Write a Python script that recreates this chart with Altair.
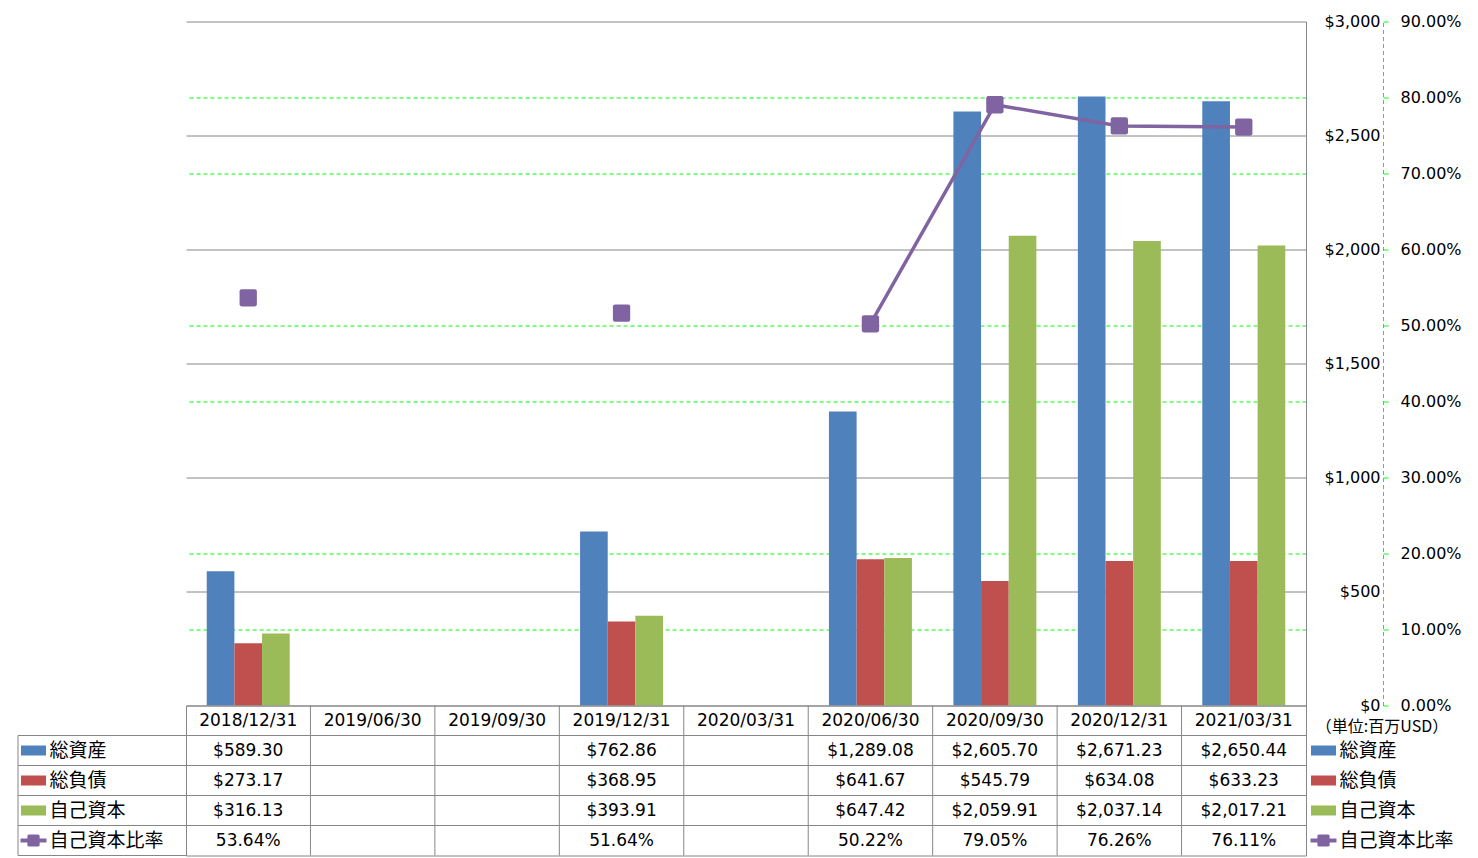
import altair as alt
import pandas as pd

# ---------------- data ----------------
cats = ["2018/12/31", "2019/06/30", "2019/09/30", "2019/12/31", "2020/03/31",
        "2020/06/30", "2020/09/30", "2020/12/31", "2021/03/31"]
assets = [589.30, None, None, 762.86, None, 1289.08, 2605.70, 2671.23, 2650.44]
liabilities = [273.17, None, None, 368.95, None, 641.67, 545.79, 634.08, 633.23]
equity = [316.13, None, None, 393.91, None, 647.42, 2059.91, 2037.14, 2017.21]
ratio = [53.64, None, None, 51.64, None, 50.22, 79.05, 76.26, 76.11]

series = ["総資産", "総負債", "自己資本"]
ratio_name = "自己資本比率"
colors = ["#4F81BD", "#C0504D", "#9BBB59"]
line_color = "#8064A2"
usd_ticks = [0, 500, 1000, 1500, 2000, 2500, 3000]
pct_ticks = [0, 0.1, 0.2, 0.3, 0.4, 0.5, 0.6, 0.7, 0.8, 0.9]
unit_note = "（単位:百万USD）"

# ---------------- layout constants ----------------
W = 1120
H1 = 684
H2 = 150
FONT = "DejaVu Sans, Noto Sans CJK JP"
CJK = "Noto Sans CJK JP"
GRID = "#868686"
LEFT = -168

rounded_sq = ("M-0.75,-1 L0.75,-1 Q1,-1 1,-0.75 L1,0.75 Q1,1 0.75,1 "
              "L-0.75,1 Q-1,1 -1,0.75 L-1,-0.75 Q-1,-1 -0.75,-1 Z")

# ---------------- tables ----------------
bar_rows = []
for i, c in enumerate(cats):
    for s, vals in zip(series, [assets, liabilities, equity]):
        if vals[i] is not None:
            bar_rows.append({"date": c, "series": s, "value": vals[i]})
bars_df = pd.DataFrame(bar_rows)

ratio_rows = []
seg = 0
prev = False
for i, c in enumerate(cats):
    r = ratio[i]
    if r is None:
        prev = False
        continue
    if not prev:
        seg += 1
    prev = True
    ratio_rows.append({"date": c, "ratio": r / 100, "seg": seg})
ratio_df = pd.DataFrame(ratio_rows)

rows = ["hdr"] + series + [ratio_name]
cell_rows = [{"date": c, "row": "hdr", "text": c} for c in cats]
for s, vals in zip(series, [assets, liabilities, equity]):
    for c, v in zip(cats, vals):
        if v is not None:
            cell_rows.append({"date": c, "row": s, "text": f"${v:,.2f}"})
for c, v in zip(cats, ratio):
    if v is not None:
        cell_rows.append({"date": c, "row": ratio_name, "text": f"{v:.2f}%"})
cells_df = pd.DataFrame(cell_rows)

keys_df = pd.DataFrame({"row": series, "series": series})
ratio_key_df = pd.DataFrame({"row": [ratio_name]})
lines_df = pd.DataFrame({"row": rows[1:]})
vlines_df = pd.DataFrame({"date": cats[1:]})
note_df = pd.DataFrame({"row": ["hdr"], "text": [unit_note]})

# ---------------- scales ----------------
xscale = alt.Scale(domain=cats, paddingInner=0, paddingOuter=0)
color_scale = alt.Scale(domain=series, range=colors)

# ---------------- main plot ----------------
bars = alt.Chart(bars_df).mark_bar().encode(
    x=alt.X("date:N", scale=xscale, axis=None),
    xOffset=alt.XOffset("series:N", scale=alt.Scale(domain=series, paddingInner=0, paddingOuter=0.75)),
    y=alt.Y("value:Q", scale=alt.Scale(domain=[0, 3000]),
            axis=alt.Axis(orient="right", offset=0, values=usd_ticks, format="$,.0f",
                          grid=True, gridColor=GRID, gridWidth=1,
                          domain=True, domainColor=GRID, ticks=False,
                          labelAlign="right", labelPadding=74, labelFont=FONT,
                          labelFontSize=16, labelColor="#000", title=None)),
    color=alt.Color("series:N", scale=color_scale, legend=None),
)

pct_y = alt.Y("ratio:Q", scale=alt.Scale(domain=[0, 0.9]),
              axis=alt.Axis(orient="right", offset=77, values=pct_ticks, format=".2%",
                            grid=True,
                            gridColor={"condition": {"test": "round(datum.value*10) % 3 == 0",
                                                     "value": "transparent"},
                                       "value": "#00FF00"},
                            gridDash=[4, 3], gridWidth=1,
                            domain=True, domainColor="#00FF00", domainDash=[4, 3],
                            ticks=True, tickColor="#00FF00", tickSize=5,
                            labelPadding=12, labelFont=FONT, labelFontSize=16,
                            labelColor="#000", title=None))

line = alt.Chart(ratio_df).mark_line(color=line_color, strokeWidth=3.5).encode(
    x=alt.X("date:N", scale=xscale, axis=None),
    y=pct_y,
    detail="seg:N",
)
points = alt.Chart(ratio_df).mark_point(shape=rounded_sq, size=300, filled=True,
                                        color=line_color, opacity=1).encode(
    x=alt.X("date:N", scale=xscale, axis=None),
    y=alt.Y("ratio:Q"),
)

top = alt.layer(bars, alt.layer(line, points)).resolve_scale(y="independent").properties(
    width=W, height=H1, view=alt.ViewBackground(stroke="transparent"))

# ---------------- data table ----------------
row_scale = alt.Scale(domain=rows, paddingInner=0, paddingOuter=0)
blank_hdr = "datum.value == 'hdr' ? '' : datum.value"

cell_text = alt.Chart(cells_df).mark_text(font=FONT, fontSize=17, color="#000").encode(
    x=alt.X("date:N", scale=xscale, axis=None),
    y=alt.Y("row:N", scale=row_scale,
            axis=alt.Axis(orient="left", title=None, ticks=False, domain=False, grid=False,
                          labelAlign="left", labelPadding=137, labelFont=CJK,
                          labelFontSize=19, labelColor="#000", labelExpr=blank_hdr)),
    text="text:N",
)

v_lines = alt.Chart(vlines_df).mark_rule(color=GRID, strokeWidth=1).encode(
    x=alt.X("date:N", scale=xscale, bandPosition=0, axis=None),
    y=alt.value(0), y2=alt.value(H2),
)
h_lines = alt.Chart(lines_df).mark_rule(color=GRID, strokeWidth=1).encode(
    y=alt.Y("row:N", scale=row_scale, bandPosition=0, axis=None),
    x=alt.value(LEFT), x2=alt.value(W),
)
v_left = alt.Chart(pd.DataFrame({"row": [series[0]]})).mark_rule(color=GRID, strokeWidth=1).encode(
    y=alt.Y("row:N", scale=row_scale, bandPosition=0, axis=None),
    y2=alt.value(H2), x=alt.value(LEFT),
)
bottom_left = alt.Chart(pd.DataFrame({"row": [series[0]]})).mark_rule(color=GRID, strokeWidth=1).encode(
    y=alt.value(H2), x=alt.value(LEFT), x2=alt.value(0),
)

left_keys = alt.Chart(keys_df).mark_tick(orient="horizontal", size=25, thickness=10, opacity=1).encode(
    y=alt.Y("row:N", scale=row_scale, axis=None),
    x=alt.value(LEFT + 15.5),
    color=alt.Color("series:N", scale=color_scale, legend=None),
)
left_rkey_line = alt.Chart(ratio_key_df).mark_tick(orient="horizontal", size=26, thickness=4,
                                                   color=line_color, opacity=1).encode(
    y=alt.Y("row:N", scale=row_scale, axis=None), x=alt.value(LEFT + 15.5))
left_rkey_pt = alt.Chart(ratio_key_df).mark_point(shape=rounded_sq, size=150, filled=True,
                                                  color=line_color, opacity=1).encode(
    y=alt.Y("row:N", scale=row_scale, axis=None), x=alt.value(LEFT + 15.5))

right_keys = alt.Chart(keys_df).mark_tick(orient="horizontal", size=25, thickness=10, opacity=1).encode(
    y=alt.Y("row:N", scale=row_scale,
            axis=alt.Axis(orient="right", title=None, ticks=False, domain=False, grid=False,
                          labelAlign="left", labelPadding=33, labelFont=CJK,
                          labelFontSize=19, labelColor="#000", labelExpr=blank_hdr)),
    x=alt.value(W + 17.5),
    color=alt.Color("series:N", scale=color_scale, legend=None),
)
right_rkey_line = alt.Chart(ratio_key_df).mark_tick(orient="horizontal", size=26, thickness=4,
                                                    color=line_color, opacity=1).encode(
    y=alt.Y("row:N", scale=row_scale, axis=None), x=alt.value(W + 17.5))
right_rkey_pt = alt.Chart(ratio_key_df).mark_point(shape=rounded_sq, size=150, filled=True,
                                                   color=line_color, opacity=1).encode(
    y=alt.Y("row:N", scale=row_scale, axis=None), x=alt.value(W + 17.5))

note = alt.Chart(note_df).mark_text(font=CJK, fontSize=16, color="#000", yOffset=6).encode(
    y=alt.Y("row:N", scale=row_scale, axis=None),
    x=alt.value(W + 76),
    text="text:N",
)

table = alt.layer(v_lines, h_lines, v_left, bottom_left, cell_text, left_keys, left_rkey_line,
                  left_rkey_pt, right_keys, right_rkey_line, right_rkey_pt, note).resolve_axis(
    y="independent").properties(width=W, height=H2,
                                view=alt.ViewBackground(stroke=GRID, strokeWidth=1))

chart = alt.vconcat(top, table, spacing=0, bounds="flush").properties(
    padding={"left": 9, "top": 4.5, "right": 5, "bottom": 0},
    background="white",
).configure_view(stroke=GRID)

chart.save("out.html", embed_options={"renderer": "svg", "actions": False})
